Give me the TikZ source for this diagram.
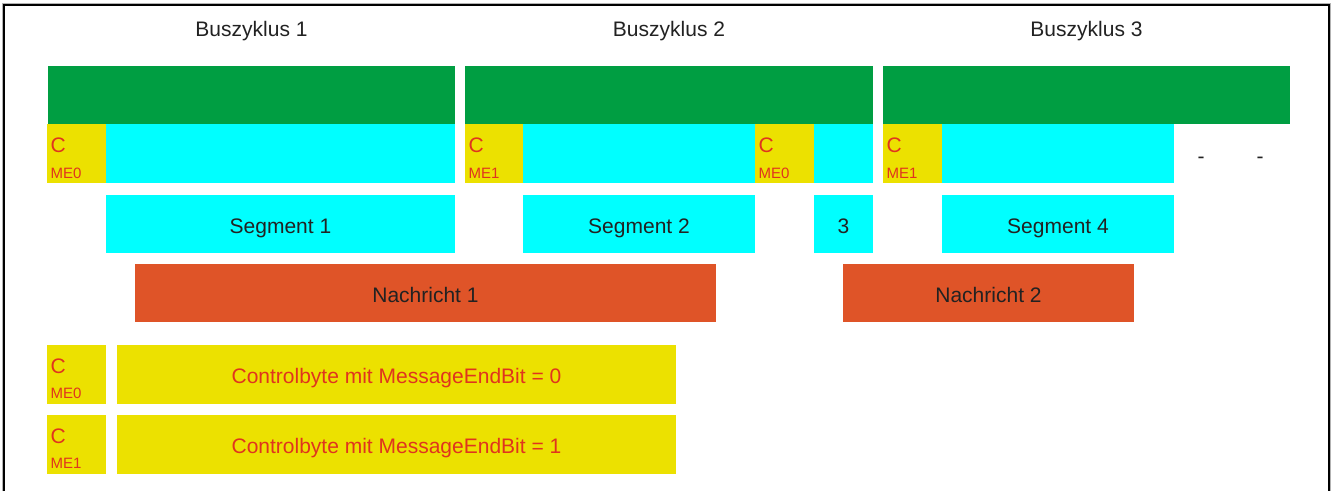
\documentclass[tikz,border=0pt]{standalone}
\usepackage{fontspec}
\setmainfont{Liberation Sans}
\definecolor{bgreen}{RGB}{0,158,66}
\definecolor{bcyan}{RGB}{0,255,255}
\definecolor{byellow}{RGB}{236,225,0}
\definecolor{borange}{RGB}{223,84,40}
\definecolor{bred}{RGB}{224,52,30}
\definecolor{btext}{RGB}{34,34,34}
\tikzset{
  blk/.style={anchor=north west, inner sep=0pt, outer sep=0pt, draw=none,
    text height=18pt, text depth=0pt,
    font=\fontsize{21}{24}\selectfont, text=btext},
  gbox/.style={blk, fill=bgreen, minimum height=58pt},
  cbox/.style={blk, fill=bcyan, minimum height=59pt},
  ybox/.style={blk, fill=byellow, minimum height=59pt, text=bred},
  obox/.style={blk, fill=borange, minimum height=58pt},
  ctext/.style={anchor=base west, inner sep=0pt, text=bred, font=\fontsize{21}{24}\selectfont},
  metext/.style={anchor=base west, inner sep=0pt, text=bred, font=\fontsize{15}{18}\selectfont},
  title/.style={anchor=base, inner sep=0pt, text=btext, font=\fontsize{21}{24}\selectfont},
  frameline/.style={line width=1.2pt, black},
  shadowline/.style={line width=1pt, gray!60}
}
\begin{document}
\begin{tikzpicture}[x=1pt,y=-1pt]
\useasboundingbox (0,0) rectangle (1336,491);
\fill[white] (0,0) rectangle (1336,491);
% frame
\coordinate (fbl) at (4,491);
\coordinate (ftl) at (4,5);
\coordinate (ftr) at (1329,5);
\coordinate (fbr) at (1329,491);
\coordinate (sbl) at (2.8,491);
\coordinate (stl) at (2.8,3.8);
\coordinate (str) at (1330.8,3.8);
\coordinate (sbr) at (1330.8,491);
\draw[shadowline] (sbl) -- (stl) -- (str) -- (sbr);
\draw[frameline] (fbl) -- (ftl) -- (ftr) -- (fbr);
% titles
\node[title] (t1) at (251.5,36) {Buszyklus 1};
\node[title] (t2) at (669,36) {Buszyklus 2};
\node[title] (t3) at (1086.5,36) {Buszyklus 3};
% green bus cycles
\node[gbox, minimum width=407pt] (g1) at (48,66) {};
\node[gbox, minimum width=408pt] (g2) at (465,66) {};
\node[gbox, minimum width=407pt] (g3) at (883,66) {};
% row 2
\node[ybox, minimum width=59pt] (y1) at (47,124) {};
\node[cbox, minimum width=349pt] (c1) at (106,124) {};
\node[ybox, minimum width=58pt] (y2) at (465,124) {};
\node[cbox, minimum width=232pt] (c2) at (523,124) {};
\node[ybox, minimum width=59pt] (y3) at (755,124) {};
\node[cbox, minimum width=59pt] (c3) at (814,124) {};
\node[ybox, minimum width=59pt] (y4) at (883,124) {};
\node[cbox, minimum width=232pt] (c4) at (942,124) {};
\node[ctext] (y1c) at (50.5,152.5) {C};
\node[metext] (y1m) at (50.5,178) {ME0};
\node[ctext] (y2c) at (468.5,152.5) {C};
\node[metext] (y2m) at (468.5,178) {ME1};
\node[ctext] (y3c) at (758.5,152.5) {C};
\node[metext] (y3m) at (758.5,178) {ME0};
\node[ctext] (y4c) at (886.5,152.5) {C};
\node[metext] (y4m) at (886.5,178) {ME1};
\node[title] (d1) at (1201,163.5) {-};
\node[title] (d2) at (1260,163.5) {-};
% segments
\node[cbox, minimum height=58pt, minimum width=349pt] (s1) at (106,195) {Segment 1};
\node[cbox, minimum height=58pt, minimum width=232pt] (s2) at (523,195) {Segment 2};
\node[cbox, minimum height=58pt, minimum width=59pt] (s3) at (814,195) {3};
\node[cbox, minimum height=58pt, minimum width=232pt] (s4) at (942,195) {Segment 4};
% messages
\node[obox, minimum width=581pt] (n1) at (135,264) {Nachricht 1};
\node[obox, minimum width=291pt] (n2) at (843,264) {Nachricht 2};
% legend
\node[ybox, minimum width=59pt] (l1y) at (47,345) {};
\node[ctext] (l1c) at (50.5,373) {C};
\node[metext] (l1m) at (50.5,398.5) {ME0};
\node[ybox, minimum width=559pt] (l1) at (117,345) {Controlbyte mit MessageEndBit = 0};
\node[ybox, minimum width=59pt] (l2y) at (47,415) {};
\node[ctext] (l2c) at (50.5,443) {C};
\node[metext] (l2m) at (50.5,468.5) {ME1};
\node[ybox, minimum width=559pt] (l2) at (117,415) {Controlbyte mit MessageEndBit = 1};
\end{tikzpicture}
\end{document}
